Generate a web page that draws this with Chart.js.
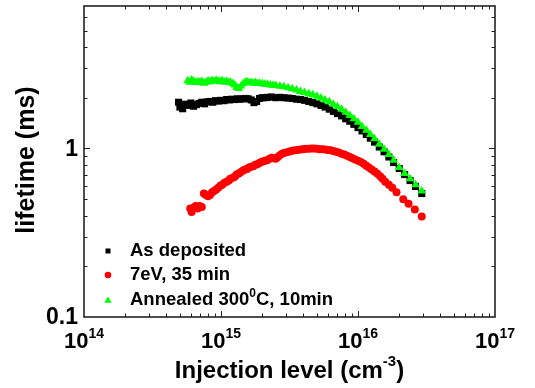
<!DOCTYPE html>
<html><head><meta charset="utf-8">
<script src="https://cdn.jsdelivr.net/npm/chart.js@4.4.1/dist/chart.umd.min.js"></script>
<style>html,body{margin:0;padding:0;background:#fff}canvas{display:block}</style>
</head><body>
<canvas id="c" width="535" height="388"></canvas>
<script>
// ---- data (injection level in cm^-3, lifetime in ms) ----
const asDepositedX = [4.90e14,5.01e14,5.25e14,5.50e14,5.75e14,6.03e14,6.31e14,6.61e14,6.92e14,7.24e14,7.59e14,7.94e14,8.32e14,8.71e14,9.12e14,9.55e14,1.00e15,1.05e15,1.10e15,1.15e15,1.20e15,1.26e15,1.32e15,1.38e15,1.45e15,1.51e15,1.58e15,1.66e15,1.74e15,1.82e15,1.91e15,2.00e15,2.09e15,2.19e15,2.34e15,2.51e15,2.69e15,2.88e15,3.09e15,3.31e15,3.55e15,3.80e15,4.07e15,4.37e15,4.68e15,5.01e15,5.37e15,5.75e15,6.17e15,6.61e15,7.08e15,7.59e15,8.13e15,8.71e15,9.33e15,1.00e16,1.07e16,1.15e16,1.23e16,1.32e16,1.43e16,1.55e16,1.68e16,1.82e16,2.00e16,2.19e16,2.40e16,2.63e16,2.92e16];
const asDepositedY = [1.88,1.76,1.72,1.83,1.80,1.86,1.78,1.82,1.85,1.88,1.84,1.89,1.90,1.88,1.92,1.91,1.93,1.92,1.95,1.94,1.96,1.95,1.97,1.96,1.97,1.98,1.97,1.94,1.87,1.90,1.98,2.00,2.00,2.01,2.02,2.00,2.01,2.00,1.99,1.98,1.96,1.95,1.93,1.90,1.87,1.84,1.80,1.76,1.71,1.66,1.61,1.56,1.50,1.45,1.39,1.33,1.27,1.21,1.15,1.09,1.02,0.955,0.89,0.825,0.76,0.70,0.645,0.595,0.54];

const ev7X = [5.96e14,6.10e14,6.31e14,6.53e14,6.76e14,7.00e14,7.24e14,7.50e14,7.76e14,8.04e14,8.32e14,8.61e14,8.91e14,9.23e14,9.55e14,9.89e14,1.02e15,1.06e15,1.10e15,1.14e15,1.17e15,1.22e15,1.26e15,1.30e15,1.35e15,1.40e15,1.45e15,1.50e15,1.55e15,1.60e15,1.66e15,1.72e15,1.78e15,1.84e15,1.91e15,1.97e15,2.04e15,2.11e15,2.19e15,2.26e15,2.34e15,2.43e15,2.51e15,2.60e15,2.69e15,2.79e15,2.88e15,3.02e15,3.16e15,3.31e15,3.47e15,3.63e15,3.80e15,3.98e15,4.17e15,4.37e15,4.57e15,4.79e15,5.01e15,5.25e15,5.50e15,5.75e15,6.03e15,6.31e15,6.61e15,6.92e15,7.24e15,7.59e15,7.94e15,8.32e15,8.71e15,9.12e15,9.55e15,1.00e16,1.05e16,1.10e16,1.15e16,1.20e16,1.26e16,1.32e16,1.38e16,1.45e16,1.51e16,1.58e16,1.68e16,1.78e16,1.91e16,2.14e16,2.34e16,2.60e16,2.92e16];
const ev7Y = [0.44,0.42,0.445,0.455,0.44,0.455,0.45,0.54,0.53,0.52,0.53,0.55,0.56,0.57,0.585,0.60,0.61,0.625,0.635,0.645,0.66,0.67,0.68,0.70,0.71,0.725,0.74,0.75,0.755,0.77,0.78,0.785,0.80,0.805,0.82,0.83,0.84,0.845,0.855,0.87,0.88,0.875,0.87,0.89,0.91,0.93,0.94,0.95,0.96,0.97,0.975,0.98,0.985,0.99,0.995,0.995,1.0,1.0,0.995,0.99,0.99,0.985,0.98,0.975,0.965,0.955,0.945,0.93,0.92,0.905,0.89,0.875,0.86,0.845,0.83,0.81,0.79,0.77,0.75,0.73,0.71,0.685,0.66,0.635,0.61,0.585,0.55,0.50,0.47,0.435,0.395];

const annealedX = [5.71e14,5.89e14,6.10e14,6.31e14,6.53e14,6.76e14,7.00e14,7.24e14,7.50e14,7.76e14,8.04e14,8.32e14,8.61e14,8.91e14,9.23e14,9.55e14,9.89e14,1.02e15,1.06e15,1.10e15,1.14e15,1.17e15,1.22e15,1.26e15,1.30e15,1.35e15,1.40e15,1.45e15,1.50e15,1.55e15,1.60e15,1.66e15,1.72e15,1.78e15,1.84e15,1.91e15,2.00e15,2.09e15,2.19e15,2.29e15,2.40e15,2.51e15,2.69e15,2.88e15,3.09e15,3.31e15,3.55e15,3.80e15,4.07e15,4.37e15,4.68e15,5.01e15,5.37e15,5.75e15,6.17e15,6.61e15,7.08e15,7.59e15,8.13e15,8.71e15,9.33e15,1.00e16,1.07e16,1.15e16,1.23e16,1.32e16,1.43e16,1.55e16,1.68e16,1.82e16,2.00e16,2.19e16,2.40e16,2.63e16,2.92e16];
const annealedY = [2.52,2.47,2.55,2.50,2.46,2.49,2.47,2.50,2.44,2.47,2.51,2.49,2.53,2.50,2.54,2.51,2.49,2.52,2.48,2.50,2.46,2.47,2.43,2.38,2.30,2.27,2.35,2.42,2.47,2.49,2.45,2.46,2.44,2.46,2.43,2.44,2.42,2.41,2.40,2.38,2.37,2.36,2.34,2.32,2.29,2.26,2.22,2.18,2.15,2.11,2.08,2.04,1.99,1.94,1.89,1.83,1.77,1.71,1.64,1.57,1.50,1.43,1.35,1.28,1.21,1.14,1.06,0.99,0.92,0.85,0.77,0.71,0.66,0.61,0.56];

const seriesNames = ['As deposited', '7eV, 35 min', 'Annealed 300', '0', 'C, 10min'];
const xTickExponents = ['14', '15', '16', '17'];
const xTickValues = [1e14, 1e15, 1e16, 1e17];
const yTickLabels = ['0.1', '1'];
const yTickValues = [0.1, 1];
const xTitle = ['Injection level (cm', '-3', ')'];
const yTitle = 'lifetime (ms)';

const pts = (xs, ys) => xs.map((v, i) => ({x: v, y: ys[i]}));
const FONT = '"Liberation Sans", Arial, Helvetica, sans-serif';

const decorPlugin = {
  id: 'decor',
  afterDatasetsDraw(chart) {
    const {ctx, chartArea: a, scales: {x, y}} = chart;
    ctx.save();
    ctx.strokeStyle = '#222';
    ctx.lineWidth = 1;
    const seg = (x1, y1, x2, y2) => { ctx.beginPath(); ctx.moveTo(x1, y1); ctx.lineTo(x2, y2); ctx.stroke(); };
    for (let e = 14; e <= 16; e++) {
      for (let m = 1; m <= 9; m++) {
        const v = m * Math.pow(10, e);
        if (e === 14 && m === 1) continue;
        const px = Math.round(x.getPixelForValue(v)) + 0.5;
        const L = m === 1 ? 6 : 3.5;
        seg(px, a.bottom, px, a.bottom - L);
        seg(px, a.top, px, a.top + L);
      }
    }
    for (let e = -1; e <= 0; e++) {
      for (let m = 1; m <= 9; m++) {
        const v = m * Math.pow(10, e);
        if (v >= 7 || (e === -1 && m === 1)) continue;
        const py = Math.round(y.getPixelForValue(v)) + 0.5;
        const L = m === 1 ? 6 : 3.5;
        seg(a.left, py, a.left + L, py);
        seg(a.right, py, a.right - L, py);
      }
    }
    ctx.lineWidth = 1.6;
    ctx.strokeRect(a.left, a.top, a.right - a.left, a.bottom - a.top);

    ctx.fillStyle = '#000';
    ctx.textBaseline = 'alphabetic';
    ctx.textAlign = 'left';
    xTickValues.forEach((v, i) => {
      const px = x.getPixelForValue(v);
      ctx.font = 'bold 22px ' + FONT;
      const w1 = ctx.measureText('10').width;
      ctx.font = 'bold 14px ' + FONT;
      const w2 = ctx.measureText(xTickExponents[i]).width;
      const s = px - (w1 + w2) / 2;
      ctx.font = 'bold 22px ' + FONT;
      ctx.fillText('10', s, 348);
      ctx.font = 'bold 14px ' + FONT;
      ctx.fillText(xTickExponents[i], s + w1, 338);
    });
    ctx.font = 'bold 23px ' + FONT;
    ctx.textAlign = 'right';
    ctx.textBaseline = 'middle';
    yTickValues.forEach((v, i) => {
      ctx.fillText(yTickLabels[i], 78, y.getPixelForValue(v) + 1);
    });
    ctx.textBaseline = 'alphabetic';
    ctx.textAlign = 'left';
    ctx.font = 'bold 24px ' + FONT;
    const t1 = ctx.measureText(xTitle[0]).width;
    const t3 = ctx.measureText(xTitle[2]).width;
    ctx.font = 'bold 15px ' + FONT;
    const t2 = ctx.measureText(xTitle[1]).width;
    const cx = (a.left + a.right) / 2;
    let sx = cx - (t1 + t2 + t3) / 2;
    ctx.font = 'bold 24px ' + FONT;
    ctx.fillText(xTitle[0], sx, 378);
    ctx.font = 'bold 15px ' + FONT;
    ctx.fillText(xTitle[1], sx + t1, 366);
    ctx.font = 'bold 24px ' + FONT;
    ctx.fillText(xTitle[2], sx + t1 + t2, 378);
    ctx.save();
    ctx.translate(34, 160);
    ctx.rotate(-Math.PI / 2);
    ctx.textAlign = 'center';
    ctx.font = 'bold 25px ' + FONT;
    ctx.fillText(yTitle, 0, 0);
    ctx.restore();

    const mx = 108, tx = 130, rows = [251, 275, 300];
    ctx.fillStyle = '#000';
    ctx.fillRect(mx - 2.5, rows[0] - 2.5, 5, 5);
    ctx.fillStyle = '#ff0000';
    ctx.beginPath(); ctx.arc(mx, rows[1], 3.3, 0, Math.PI * 2); ctx.fill();
    ctx.fillStyle = '#00ff00';
    ctx.beginPath(); ctx.moveTo(mx, rows[2] - 3.6); ctx.lineTo(mx + 3.7, rows[2] + 2.8); ctx.lineTo(mx - 3.7, rows[2] + 2.8); ctx.closePath(); ctx.fill();
    ctx.fillStyle = '#000';
    ctx.textAlign = 'left';
    ctx.textBaseline = 'middle';
    ctx.font = 'bold 18.5px ' + FONT;
    ctx.fillText(seriesNames[0], tx, rows[0]);
    ctx.fillText(seriesNames[1], tx, rows[1]);
    ctx.fillText(seriesNames[2], tx, rows[2]);
    let lx = tx + ctx.measureText(seriesNames[2]).width;
    ctx.font = 'bold 12px ' + FONT;
    ctx.fillText(seriesNames[3], lx, rows[2] - 6);
    lx += ctx.measureText(seriesNames[3]).width;
    ctx.font = 'bold 18.5px ' + FONT;
    ctx.fillText(seriesNames[4], lx, rows[2]);
    ctx.restore();
  }
};

new Chart(document.getElementById('c'), {
  type: 'scatter',
  data: {
    datasets: [
      {label: seriesNames[0], data: pts(asDepositedX, asDepositedY), pointStyle: 'rect', pointRadius: 5,
       backgroundColor: '#000000', borderColor: '#000000', borderWidth: 0, order: 3},
      {label: seriesNames[1], data: pts(ev7X, ev7Y), pointStyle: 'circle', pointRadius: 4,
       backgroundColor: '#ff0000', borderColor: '#ff0000', borderWidth: 0, order: 2},
      {label: seriesNames[2] + '\u2070' + seriesNames[4], data: pts(annealedX, annealedY), pointStyle: 'triangle', pointRadius: 5,
       backgroundColor: '#00ff00', borderColor: '#00ff00', borderWidth: 0, order: 1}
    ]
  },
  options: {
    responsive: false,
    animation: false,
    devicePixelRatio: 1,
    layout: {padding: {top: 6, right: 40, left: 0, bottom: 0}},
    plugins: {legend: {display: false}, tooltip: {enabled: false}},
    scales: {
      x: {type: 'logarithmic', min: 1e14, max: 1e17,
          grid: {display: false}, border: {display: false}, ticks: {display: false},
          afterFit: s => { s.height = 71; }},
      y: {type: 'logarithmic', min: 0.1, max: 7,
          grid: {display: false}, border: {display: false}, ticks: {display: false},
          afterFit: s => { s.width = 84; }}
    }
  },
  plugins: [decorPlugin]
});
</script>
</body></html>
